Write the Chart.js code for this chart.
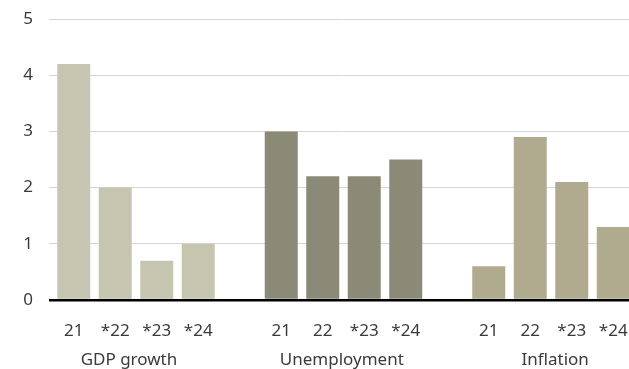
<!DOCTYPE html>
<html>
<head>
<meta charset="utf-8">
<script src="https://cdn.jsdelivr.net/npm/chart.js@4"></script>
<style>
  html, body { margin: 0; padding: 0; background: #fff; overflow: hidden; }
  #wrap { width: 629px; height: 369px; overflow: hidden; }
</style>
</head>
<body>
<div id="wrap"><canvas id="chart" width="640" height="369"></canvas></div>
<script>
// values
const groupNames = ['GDP growth', 'Unemployment', 'Inflation'];
const gdpYears = ['21', '*22', '*23', '*24'];
const unempYears = ['21', '22', '*23', '*24'];
const inflYears = ['21', '22', '*23', '*24'];
const gdp = [4.2, 2.0, 0.7, 1.0];
const unemployment = [3.0, 2.2, 2.2, 2.5];
const inflation = [0.6, 2.9, 2.1, 1.3];
const yTicks = [0, 1, 2, 3, 4, 5];

// 4 bars, empty slot, 4 bars, empty slot, 4 bars
const labels = [...gdpYears, '', ...unempYears, '', ...inflYears];
const blank = [null, null, null, null];
// where the group names sit, in slot units (as placed in the picture)
const groupCenters = [1.33, 6.46, 11.6];

const font = { family: 'Noto Sans', size: 17 };
const textColor = '#3a3a3a';

// fixed axis sizes so the plot area lines up with the picture
function fitX(h) {
    return s => { s.height = h; s.paddingLeft = 0; s.paddingRight = 0; };
}

const ctx = document.getElementById('chart').getContext('2d');
new Chart(ctx, {
    type: 'bar',
    data: {
        labels: labels,
        datasets: [
            { label: groupNames[0], data: [...gdp, null, ...blank, null, ...blank], backgroundColor: '#c6c5b0', xAxisID: 'x' },
            { label: groupNames[1], data: [...blank, null, ...unemployment, null, ...blank], backgroundColor: '#8b8a76', xAxisID: 'x' },
            { label: groupNames[2], data: [...blank, null, ...blank, null, ...inflation], backgroundColor: '#b0aa8e', xAxisID: 'x' }
        ]
    },
    options: {
        responsive: false,
        animation: false,
        devicePixelRatio: 1,
        grouped: false,
        barPercentage: 1,
        categoryPercentage: 0.795,
        layout: { padding: { top: 0, right: 6, left: 0, bottom: 0 } },
        plugins: { legend: { display: false }, tooltip: { enabled: false } },
        scales: {
            x: {
                grid: { display: false, drawTicks: false },
                border: { display: false },
                afterFit: fitX(41),
                ticks: { color: textColor, font: font, padding: 21, autoSkip: false, maxRotation: 0 }
            },
            x2: {
                type: 'linear',
                position: 'bottom',
                offset: false,
                min: -0.5,
                max: 13.5,
                grid: { display: false, drawTicks: false },
                border: { display: false },
                afterFit: fitX(28),
                afterBuildTicks: s => { s.ticks = groupCenters.map(v => ({ value: v })); },
                ticks: {
                    color: textColor, font: font, padding: 9, autoSkip: false, maxRotation: 0,
                    callback: v => groupNames[groupCenters.indexOf(v)]
                }
            },
            y: {
                min: 0,
                max: 5,
                afterBuildTicks: s => { s.ticks = yTicks.map(v => ({ value: v })); },
                afterFit: s => { s.width = 53; s.paddingTop = 19; s.paddingBottom = 0; },
                border: { display: false },
                grid: {
                    color: c => c.tick && c.tick.value === 0 ? '#000' : '#d6d6d6',
                    lineWidth: c => c.tick && c.tick.value === 0 ? 2.5 : 1,
                    tickLength: 4
                },
                ticks: { color: textColor, font: font, padding: 16 }
            }
        }
    }
});
</script>
</body>
</html>
